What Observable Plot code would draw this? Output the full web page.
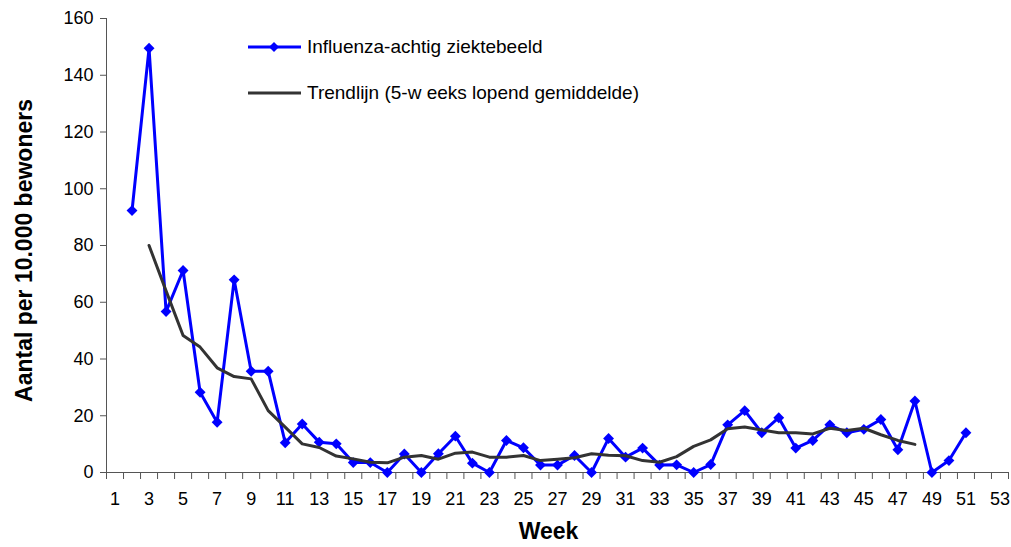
<!DOCTYPE html>
<html><head><meta charset="utf-8">
<script src="https://cdn.jsdelivr.net/npm/d3@7"></script>
<script src="https://cdn.jsdelivr.net/npm/@observablehq/plot@0.6"></script>
<style>
body{margin:0;background:#fff;font-family:"Liberation Sans",Arial,sans-serif}
#wrap{position:relative;width:1011px;height:547px;overflow:hidden}
.leg{position:absolute;left:248px;height:24px;display:flex;align-items:center;font-size:19px;color:#000;white-space:pre}
.leg svg{margin-right:6px}
</style></head><body><div id="wrap"></div>
<script>
const weekLabels = [1,3,5,7,9,11,13,15,17,19,21,23,25,27,29,31,33,35,37,39,41,43,45,47,49,51,53];
const allWeeks = d3.range(1, 54);
const fluWeeks = d3.range(2, 52);
const fluValues = [92.3,149.5,56.7,71.2,28.3,17.7,67.9,35.7,35.7,10.5,17.1,10.7,10.1,3.5,3.5,0,6.5,0,6.6,12.8,3.3,0,11.3,8.7,2.6,2.6,6.0,0,12.0,5.4,8.6,2.6,2.7,0,2.8,16.8,21.8,14.0,19.3,8.6,11.3,16.8,14.0,15.2,18.7,8.0,25.2,0,4.2,14.0];
const trendWeeks = d3.range(3, 49);
const trendValues = [80,64,48.3,44.2,36.9,33.8,33.0,21.8,16.0,10.1,8.8,5.8,4.8,3.6,3.4,5.4,6.0,4.7,6.8,7.2,5.4,5.4,6.0,4.2,4.7,5.2,6.6,6.1,5.9,4.2,3.6,5.6,9.2,11.5,15.4,16.0,15.0,14.0,14.0,13.6,15.6,14.8,15.6,13.3,11.3,9.9];
const yTicks = [0,20,40,60,80,100,120,140,160];
const seriesNames = ["Influenza-achtig ziektebeeld","Trendlijn (5-w eeks lopend gemiddelde)"];
const yTitle = "Aantal per 10.000 bewoners";
const xTitle = "Week";

const flu = fluWeeks.map((w,i)=>({week:w, value:fluValues[i]}));
const trend = trendWeeks.map((w,i)=>({week:w, value:trendValues[i]}));
const boundaries = [...allWeeks.map(w=>w-0.5), allWeeks[allWeeks.length-1]+0.5];

const chart = Plot.plot({
  width:1011, height:547,
  marginLeft:106, marginRight:3, marginTop:18, marginBottom:75,
  style:{fontFamily:'"Liberation Sans",Arial,sans-serif', background:"#fff", color:"#000"},
  x:{domain:[0.5,53.5], axis:null},
  y:{domain:[0,160], axis:null},
  marks:[
    Plot.axisY(yTicks, {tickSize:6, tickPadding:7, fontSize:18, stroke:"#555", label:null}),
    Plot.axisX(boundaries, {tickSize:7, tickFormat:()=>"", stroke:"#555", label:null}),
    Plot.axisX(weekLabels, {tickSize:0, tickPadding:20, fontSize:18, label:null, tickFormat:d=>String(d)}),
    Plot.ruleX([0.5], {stroke:"#555"}),
    Plot.ruleY([0], {stroke:"#555"}),
    Plot.line(flu, {x:"week", y:"value", stroke:"#0000ff", strokeWidth:3}),
    Plot.dot(flu, {x:"week", y:"value", symbol:"diamond2", r:4.9, fill:"#0000ff", stroke:"none"}),
    Plot.line(trend, {x:"week", y:"value", stroke:"#333333", strokeWidth:3}),
    Plot.text([yTitle], {frameAnchor:"left", textAnchor:"middle", dx:-82, dy:5, rotate:-90, fontSize:23, fontWeight:"bold"}),
    Plot.text([xTitle], {frameAnchor:"bottom", textAnchor:"middle", dy:66, dx:-9, fontSize:23, fontWeight:"bold"})
  ]
});
const wrap = document.getElementById("wrap");
wrap.appendChild(chart);

const leg1 = document.createElement("div");
leg1.className="leg"; leg1.style.top="35px";
leg1.innerHTML = `<svg width="53" height="14"><line x1="0" y1="7" x2="53" y2="7" stroke="#0000ff" stroke-width="3"/><path d="M26,2 L31,7 L26,12 L21,7Z" fill="#0000ff"/></svg>`;
leg1.appendChild(document.createTextNode(seriesNames[0]));
const leg2 = document.createElement("div");
leg2.className="leg"; leg2.style.top="81px";
leg2.innerHTML = `<svg width="53" height="14"><line x1="0" y1="7" x2="53" y2="7" stroke="#333333" stroke-width="3"/></svg>`;
leg2.appendChild(document.createTextNode(seriesNames[1]));
wrap.appendChild(leg1); wrap.appendChild(leg2);
</script></body></html>
